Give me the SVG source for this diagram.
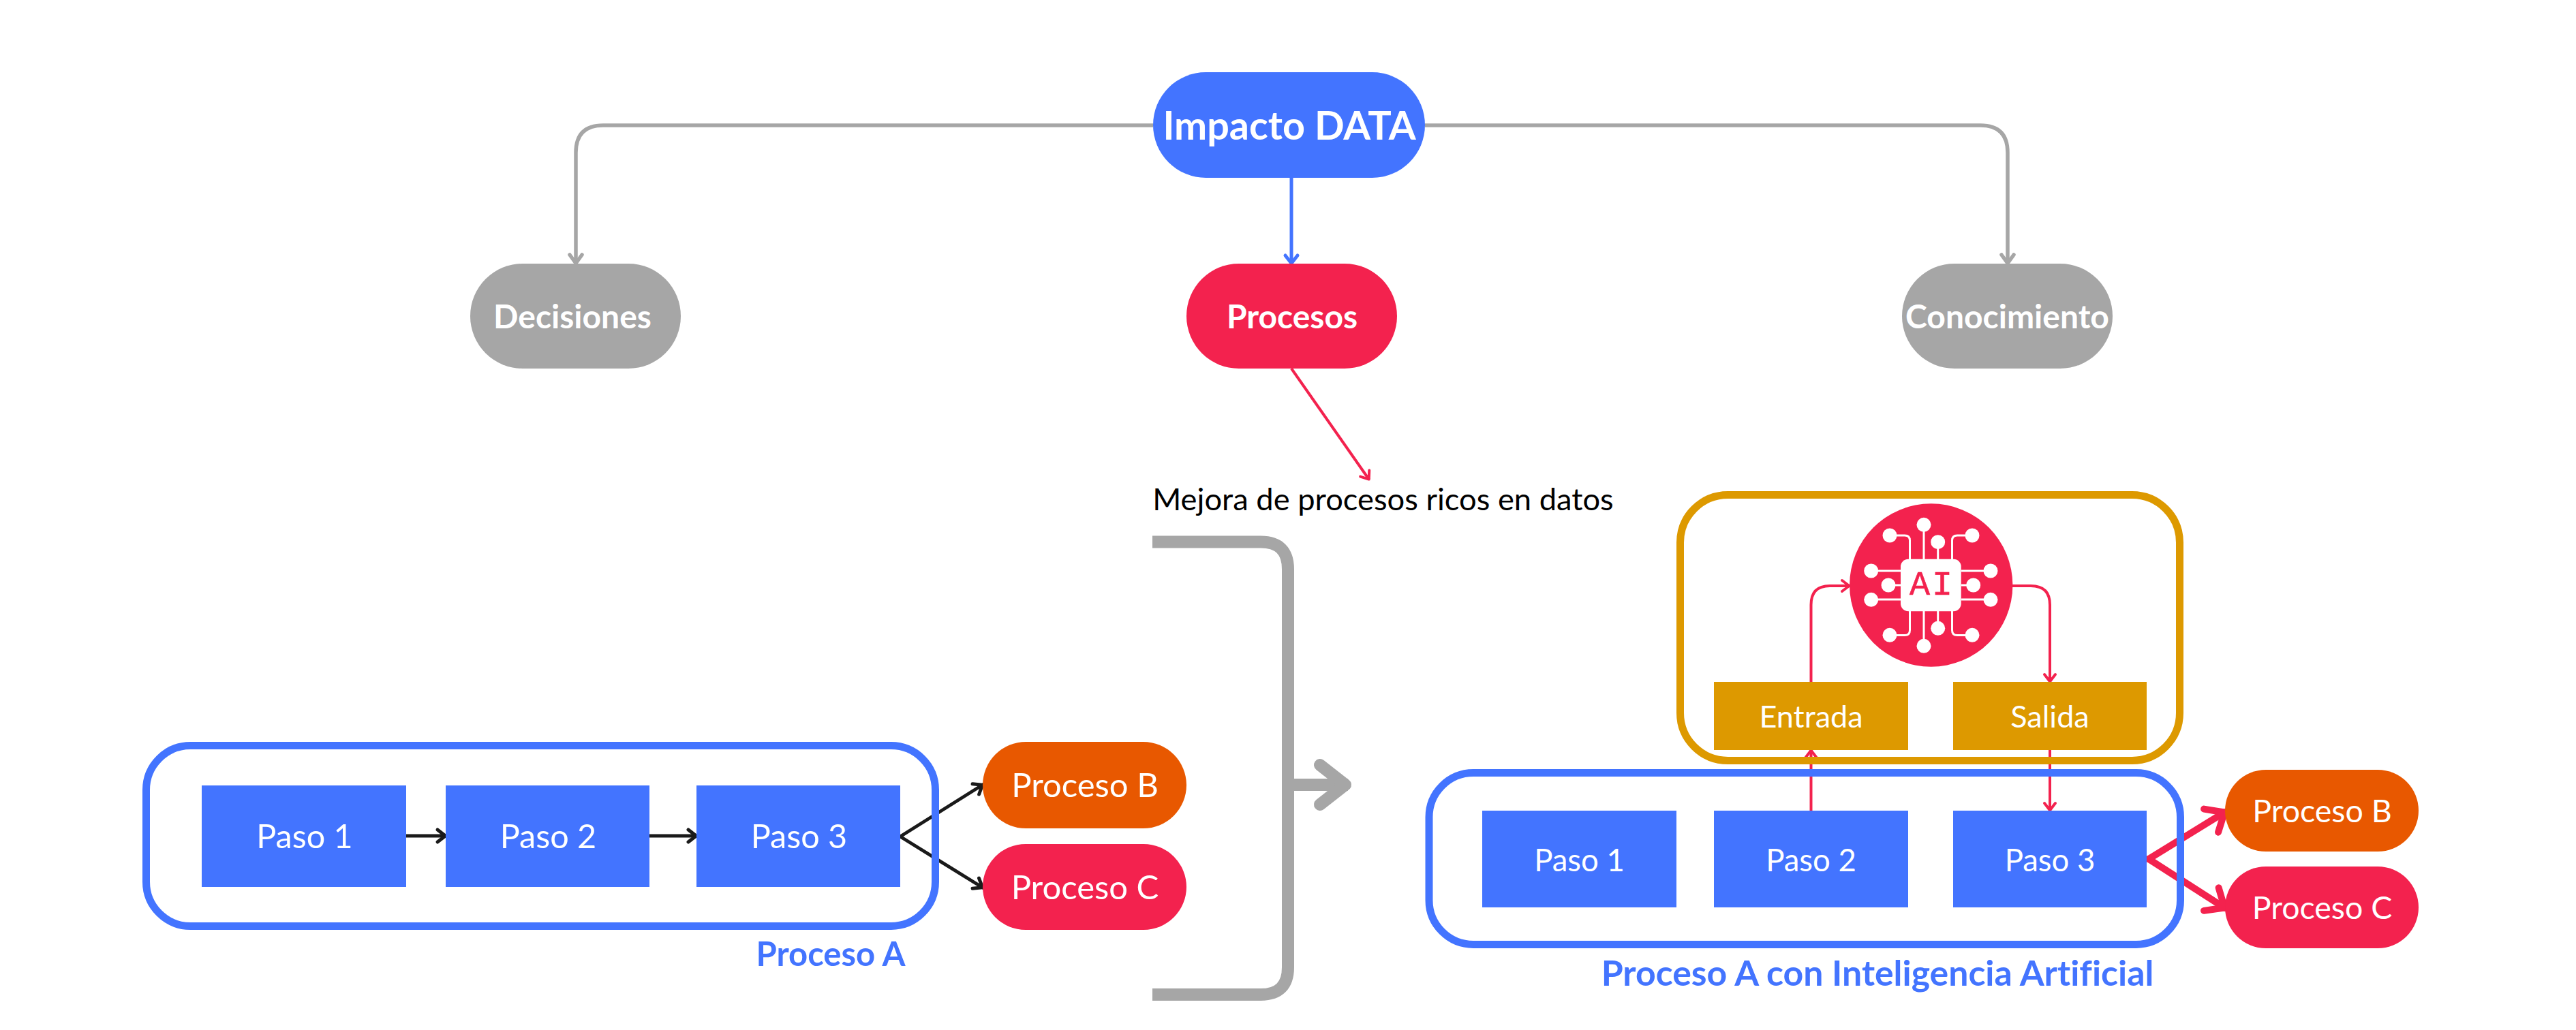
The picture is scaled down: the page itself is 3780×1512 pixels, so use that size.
<svg xmlns="http://www.w3.org/2000/svg" width="3780" height="1512" viewBox="0 0 3780 1512">
<style>
  text { font-family: "Lato", "Noto Sans", sans-serif; text-anchor: middle; fill: #fff; font-variant-ligatures: none; }
  .b { font-weight: 700; }
  .blue { fill: #4374ff; } .red { fill: #f3224e; } .gray { fill: #a6a6a6; } .orange { fill: #e85800; } .gold { fill: #dd9900; }
  .frame { fill: none; stroke-width: 11; }
  .wire { fill: none; stroke-linejoin: round; stroke-linecap: butt; }
  .chipwire { fill: none; stroke: #fff; stroke-width: 3; }
  .caption { fill: #4374ff; font-weight: 700; }
</style>
<defs>
  <marker id="hGray" markerUnits="userSpaceOnUse" orient="auto" markerWidth="30" markerHeight="30" refX="26" refY="15" viewBox="0 0 30 30"><path d="M13 6 L25.5 15 L13 24" fill="none" stroke="#a6a6a6" stroke-width="5.5" stroke-linecap="round" stroke-linejoin="round"/></marker>
  <marker id="hBlue" markerUnits="userSpaceOnUse" orient="auto" markerWidth="30" markerHeight="30" refX="26" refY="15" viewBox="0 0 30 30"><path d="M14 6 L25.5 15 L14 24" fill="none" stroke="#4374ff" stroke-width="5" stroke-linecap="round" stroke-linejoin="round"/></marker>
  <marker id="hRed" markerUnits="userSpaceOnUse" orient="auto" markerWidth="30" markerHeight="30" refX="26" refY="15" viewBox="0 0 30 30"><path d="M15 7 L25.5 15 L15 23" fill="none" stroke="#f3224e" stroke-width="4" stroke-linecap="round" stroke-linejoin="round"/></marker>
  <marker id="hBlack" markerUnits="userSpaceOnUse" orient="auto" markerWidth="30" markerHeight="30" refX="26" refY="15" viewBox="0 0 30 30"><path d="M14 6 L25.5 15 L14 24" fill="none" stroke="#1a1a1a" stroke-width="5" stroke-linecap="round" stroke-linejoin="round"/></marker>
  <marker id="hRedBold" markerUnits="userSpaceOnUse" orient="auto" markerWidth="60" markerHeight="60" refX="52" refY="30" viewBox="0 0 60 60"><path d="M28 10 L51 30 L28 50" fill="none" stroke="#f3224e" stroke-width="10" stroke-linecap="round" stroke-linejoin="round"/></marker>
  <marker id="hGrayBold" markerUnits="userSpaceOnUse" orient="auto" markerWidth="90" markerHeight="90" refX="78" refY="45" viewBox="0 0 90 90"><path d="M37 16 L74 45 L37 74" fill="none" stroke="#a6a6a6" stroke-width="18" stroke-linecap="round" stroke-linejoin="round"/></marker>
</defs>

<g id="connectors" class="wire">
  <path d="M1692 184 H885 Q845 184 845 224 V387" stroke="#a6a6a6" stroke-width="5.5" marker-end="url(#hGray)"/>
  <path d="M2091 184 H2906 Q2946 184 2946 224 V387" stroke="#a6a6a6" stroke-width="5.5" marker-end="url(#hGray)"/>
  <path d="M1895 261 V387" stroke="#4374ff" stroke-width="5" marker-end="url(#hBlue)"/>
  <path d="M1895 541 L2009 704" stroke="#f3224e" stroke-width="4" marker-end="url(#hRed)"/>
  <path d="M1691 795.5 H1850 Q1890 795.5 1890 835.5 V1420 Q1890 1460 1850 1460 H1691" stroke="#a6a6a6" stroke-width="18"/>
  <path d="M1881 1152 H1978" stroke="#a6a6a6" stroke-width="18" marker-end="url(#hGrayBold)"/>
  <path d="M596 1227 H654" stroke="#1a1a1a" stroke-width="5" marker-end="url(#hBlack)"/>
  <path d="M953 1227 H1022" stroke="#1a1a1a" stroke-width="5" marker-end="url(#hBlack)"/>
  <path d="M1321 1228 L1442 1152" stroke="#1a1a1a" stroke-width="5" stroke-linecap="round" marker-end="url(#hBlack)"/>
  <path d="M1321 1228 L1442 1303" stroke="#1a1a1a" stroke-width="5" stroke-linecap="round" marker-end="url(#hBlack)"/>
  <path d="M2657.5 1190 V1101" stroke="#f3224e" stroke-width="4" marker-end="url(#hRed)"/>
  <path d="M3008 1101 V1190" stroke="#f3224e" stroke-width="4" marker-end="url(#hRed)"/>
  <path d="M2657.5 1001 V888 Q2657.5 860 2685 860 H2714" stroke="#f3224e" stroke-width="4" marker-end="url(#hRed)"/>
  <path d="M2953 860 H2980 Q3008 860 3008 888 V1001" stroke="#f3224e" stroke-width="4" marker-end="url(#hRed)"/>
  <path d="M3153 1261 L3265 1192" stroke="#f3224e" stroke-width="10" stroke-linecap="round" marker-end="url(#hRedBold)"/>
  <path d="M3153 1261 L3265 1333" stroke="#f3224e" stroke-width="10" stroke-linecap="round" marker-end="url(#hRedBold)"/>
</g>

<g id="impacto"><rect class="blue" x="1692" y="106" width="399" height="155" rx="77.5"/><text class="b" x="1892" y="205" font-size="57.5">Impacto DATA</text></g>
<g id="decisiones"><rect class="gray" x="690" y="387" width="309" height="154" rx="77"/><text class="b" x="840" y="482" font-size="48">Decisiones</text></g>
<g id="procesos"><rect class="red" x="1741" y="387" width="309" height="154" rx="77"/><text class="b" x="1896" y="482" font-size="48">Procesos</text></g>
<g id="conocimiento"><rect class="gray" x="2791" y="387" width="309" height="154" rx="77"/><text class="b" x="2945.5" y="482" font-size="48">Conocimiento</text></g>
<g id="mejora"><text x="2029.5" y="749" font-size="45.3" style="fill:#000">Mejora de procesos ricos en datos</text></g>

<g id="proceso-a">
  <rect class="frame" stroke="#4374ff" x="214.5" y="1094.5" width="1158" height="265" rx="65"/>
  <text class="caption" x="1219" y="1418" font-size="49">Proceso A</text>
</g>
<g id="a-paso1"><rect class="blue" x="296" y="1153" width="300" height="149"/><text x="447" y="1245" font-size="48.5">Paso 1</text></g>
<g id="a-paso2"><rect class="blue" x="654" y="1153" width="299" height="149"/><text x="804.5" y="1245" font-size="48.5">Paso 2</text></g>
<g id="a-paso3"><rect class="blue" x="1022" y="1153" width="299" height="149"/><text x="1172.5" y="1245" font-size="48.5">Paso 3</text></g>
<g id="a-procesob"><rect class="orange" x="1442" y="1089" width="299" height="127" rx="63.5"/><text x="1592" y="1170" font-size="49">Proceso B</text></g>
<g id="a-procesoc"><rect class="red" x="1442" y="1239" width="299" height="126" rx="63"/><text x="1592" y="1320" font-size="49">Proceso C</text></g>

<g id="ia-marco"><rect class="frame" stroke="#dd9900" x="2465.5" y="726.5" width="733" height="390" rx="70"/></g>
<g id="ia-chip">
  <circle class="red" cx="2833.7" cy="859" r="119.7"/>
  <g class="chipwire">
    <path d="M2823 760 V821 M2843.7 796 V821 M2773 786 H2795 Q2802.5 786 2802.5 793.5 V821 M2894 786 H2872 Q2864.5 786 2864.5 793.5 V821"/>
    <path d="M2823 948 V897 M2843.7 922 V897 M2773 932.5 H2795 Q2802.5 932.5 2802.5 925 V897 M2894 932.5 H2872 Q2864.5 932.5 2864.5 925 V897"/>
    <path d="M2746 838 H2789 M2771 859 H2789 M2746 880 H2789 M2921 838 H2878 M2896 859 H2878 M2921 880 H2878"/>
  </g>
  <g style="fill:#fff">
    <rect x="2789" y="820.7" width="88.7" height="76.6" rx="11"/>
    <circle cx="2823" cy="770.3" r="10.5"/><circle cx="2843.7" cy="795.7" r="10.5"/><circle cx="2773" cy="786" r="10.5"/><circle cx="2894" cy="786" r="10.5"/>
    <circle cx="2823" cy="948.3" r="10.5"/><circle cx="2843.7" cy="922.3" r="10.5"/><circle cx="2773" cy="932.3" r="10.5"/><circle cx="2894" cy="932.3" r="10.5"/>
    <circle cx="2745.7" cy="838" r="10.5"/><circle cx="2771" cy="859" r="10.5"/><circle cx="2745.7" cy="880.3" r="10.5"/>
    <circle cx="2921" cy="838" r="10.5"/><circle cx="2895.7" cy="859" r="10.5"/><circle cx="2921" cy="880.3" r="10.5"/>
  </g>
  <text x="2835" y="873" font-size="50" letter-spacing="3" style="font-family:'Liberation Mono',monospace;fill:#f3224e;stroke:#f3224e;stroke-width:0.6">AI</text>
</g>
<g id="ia-entrada"><rect class="gold" x="2515" y="1001" width="285" height="100"/><text x="2657.5" y="1068" font-size="45">Entrada</text></g>
<g id="ia-salida"><rect class="gold" x="2866" y="1001" width="284" height="100"/><text x="3008" y="1068" font-size="45">Salida</text></g>

<g id="proceso-a-ia">
  <rect class="frame" stroke="#4374ff" x="2097" y="1134.5" width="1102.5" height="252" rx="65"/>
  <text class="caption" x="2755" y="1447" font-size="51.8">Proceso A con Inteligencia Artificial</text>
</g>
<g id="b-paso1"><rect class="blue" x="2175" y="1190" width="285" height="142"/><text x="2317.5" y="1279" font-size="45.5">Paso 1</text></g>
<g id="b-paso2"><rect class="blue" x="2515" y="1190" width="285" height="142"/><text x="2657.5" y="1279" font-size="45.5">Paso 2</text></g>
<g id="b-paso3"><rect class="blue" x="2866" y="1190" width="284" height="142"/><text x="3008" y="1279" font-size="45.5">Paso 3</text></g>
<g id="b-procesob"><rect class="orange" x="3265" y="1130" width="284" height="120" rx="60"/><text x="3407.5" y="1207" font-size="46.5">Proceso B</text></g>
<g id="b-procesoc"><rect class="red" x="3265" y="1272" width="284" height="120" rx="60"/><text x="3407.5" y="1349" font-size="46.5">Proceso C</text></g>
</svg>
